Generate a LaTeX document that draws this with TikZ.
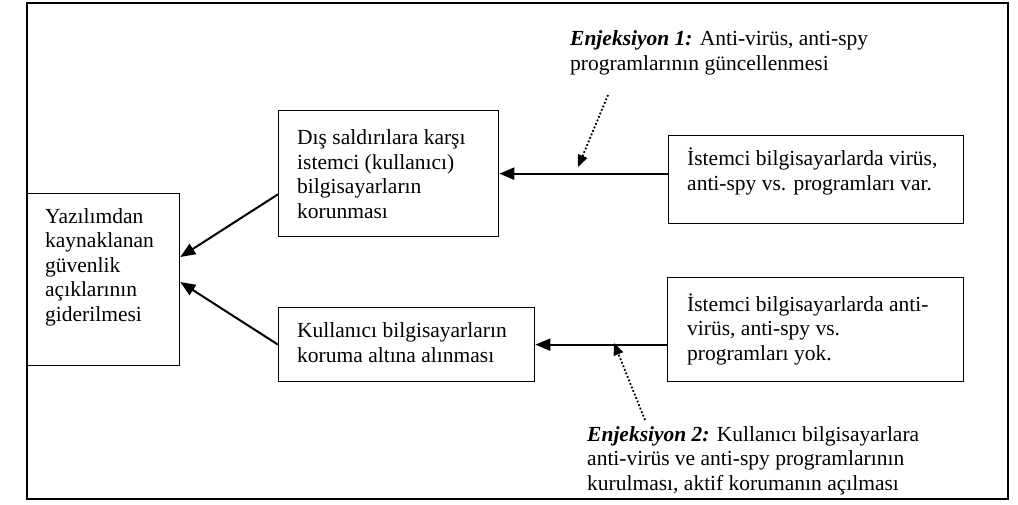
\documentclass[tikz,border=0pt]{standalone}
\usepackage{fontspec}
\setmainfont{Liberation Serif}
\usetikzlibrary{arrows.meta,calc}
\begin{document}
\begin{tikzpicture}[x=1pt,y=-1pt,
  box/.style={draw,line width=1.3pt,inner sep=0,anchor=north west},
  txt/.style={inner sep=0,anchor=base west,align=left,font=\fontsize{21.5}{24.5}\selectfont},
  conn/.style={line width=2pt,-{Triangle[length=15pt,width=12pt]}},
  inj/.style={line width=1.8pt,dotted,-{Triangle[length=12pt,width=10pt]}}]
\useasboundingbox (0,0) rectangle (1018,504);
% outer frame
\draw[line width=1.2pt] (27,3) rectangle (1008,499);

% boxes
\node[box,minimum width=152pt,minimum height=172pt] (L)  at (27,193) {};
\node[box,minimum width=220pt,minimum height=126pt] (M1) at (278,110) {};
\node[box,minimum width=256pt,minimum height=74pt]  (M2) at (278,307) {};
\node[box,minimum width=295pt,minimum height=88pt]  (R1) at (668,135) {};
\node[box,minimum width=296pt,minimum height=104pt] (R2) at (667,277) {};

% box texts (anchored at the baseline of their last line)
\node[txt] (tL) at (45,321) {Yazılımdan\\kaynaklanan\\güvenlik\\açıklarının\\giderilmesi};
\node[txt] (tM1) at (297,218) {Dış saldırılara karşı\\istemci (kullanıcı)\\bilgisayarların\\korunması};
\node[txt] (tM2) at (297,362) {Kullanıcı bilgisayarların\\koruma altına alınması};
\node[txt] (tR1) at (687,190) {İstemci bilgisayarlarda virüs,\\anti-spy vs. programları var.};
\node[txt] (tR2) at (687,360) {İstemci bilgisayarlarda anti-\\virüs, anti-spy vs.\\programları yok.};

% injection notes
\node[txt] (n1) at (570,70) {\textbf{\textit{Enjeksiyon 1:}} Anti-virüs, anti-spy\\programlarının güncellenmesi};
\node[txt] (n2) at (587,490) {\textbf{\textit{Enjeksiyon 2:}} Kullanıcı bilgisayarlara\\anti-virüs ve anti-spy programlarının\\kurulması, aktif korumanın açılması};

% connectors
\draw[conn] (R1.west |- M1.east) -- (M1.east);
\draw[conn] (R2.west |- M2.east) -- (M2.east);
\draw[conn] ($(M1.south west)+(0,-43)$) -- ($(L.north east)+(0,64)$);
\draw[conn] (M2.west) -- ($(L.north east)+(0,89)$);

% injection pointers
\coordinate (p1) at (608,95);
\coordinate (q1) at (578,167);
\coordinate (p2) at (645,420);
\coordinate (q2) at (614,343);
\draw[inj] (p1) -- (q1);
\draw[inj] (p2) -- (q2);
\end{tikzpicture}
\end{document}
